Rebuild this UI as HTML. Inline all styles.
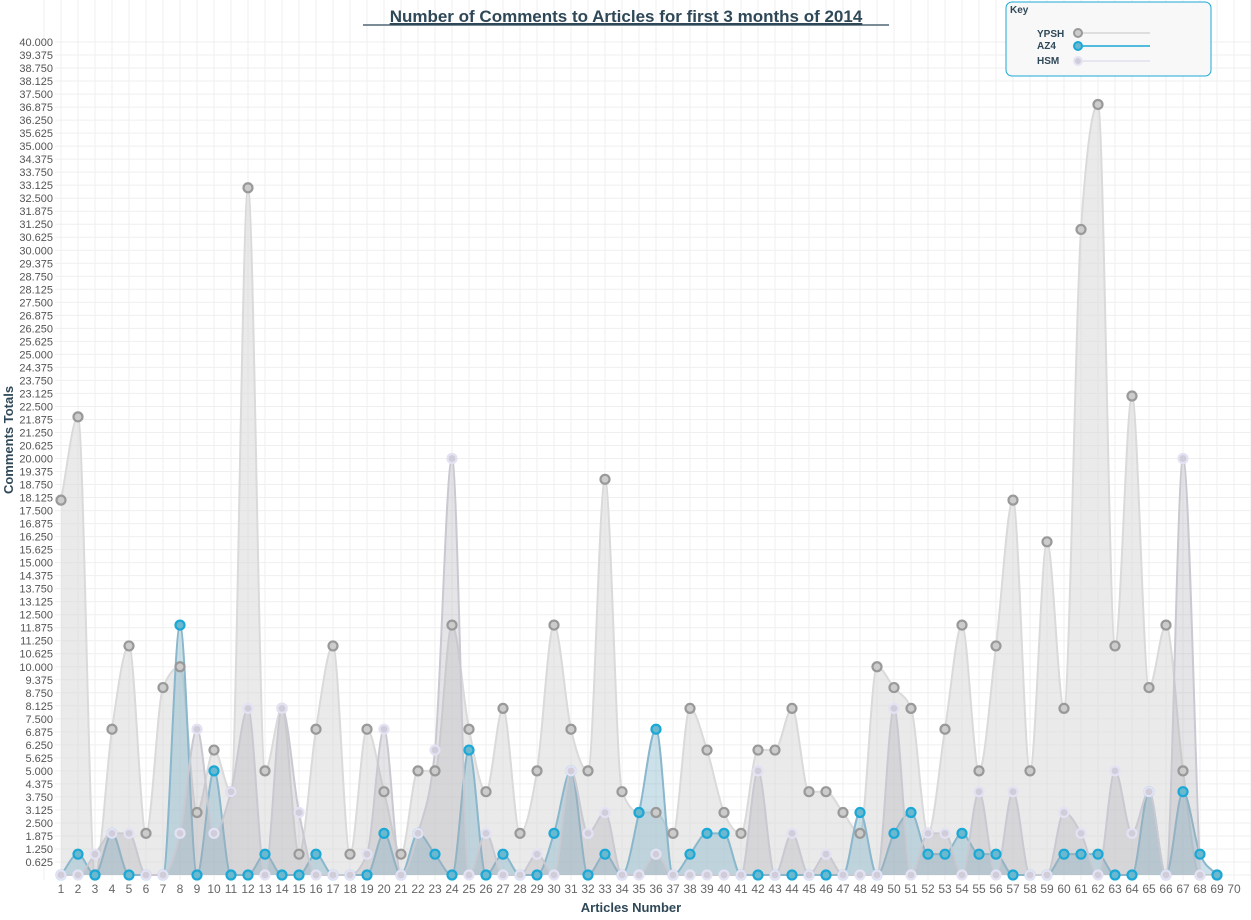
<!DOCTYPE html>
<html><head><meta charset="utf-8"><style>
html,body{margin:0;padding:0;background:#fff}
svg{display:block;font-family:"Liberation Sans",sans-serif}
</style></head><body>
<svg id="c" width="1251" height="920" viewBox="0 0 1251 920">
<g id="grid"></g>
<g id="series"></g>
<g id="ylab" font-size="11" fill="#555" text-anchor="end">
<text>0.625</text><text>1.250</text><text>1.875</text><text>2.500</text><text>3.125</text><text>3.750</text><text>4.375</text><text>5.000</text><text>5.625</text><text>6.250</text><text>6.875</text><text>7.500</text><text>8.125</text><text>8.750</text><text>9.375</text><text>10.000</text><text>10.625</text><text>11.250</text><text>11.875</text><text>12.500</text><text>13.125</text><text>13.750</text><text>14.375</text><text>15.000</text><text>15.625</text><text>16.250</text><text>16.875</text><text>17.500</text><text>18.125</text><text>18.750</text><text>19.375</text><text>20.000</text><text>20.625</text><text>21.250</text><text>21.875</text><text>22.500</text><text>23.125</text><text>23.750</text><text>24.375</text><text>25.000</text><text>25.625</text><text>26.250</text><text>26.875</text><text>27.500</text><text>28.125</text><text>28.750</text><text>29.375</text><text>30.000</text><text>30.625</text><text>31.250</text><text>31.875</text><text>32.500</text><text>33.125</text><text>33.750</text><text>34.375</text><text>35.000</text><text>35.625</text><text>36.250</text><text>36.875</text><text>37.500</text><text>38.125</text><text>38.750</text><text>39.375</text><text>40.000</text>
</g>
<g id="xlab" font-size="12" fill="#666" text-anchor="middle">
<text>1</text><text>2</text><text>3</text><text>4</text><text>5</text><text>6</text><text>7</text><text>8</text><text>9</text><text>10</text><text>11</text><text>12</text><text>13</text><text>14</text><text>15</text><text>16</text><text>17</text><text>18</text><text>19</text><text>20</text><text>21</text><text>22</text><text>23</text><text>24</text><text>25</text><text>26</text><text>27</text><text>28</text><text>29</text><text>30</text><text>31</text><text>32</text><text>33</text><text>34</text><text>35</text><text>36</text><text>37</text><text>38</text><text>39</text><text>40</text><text>41</text><text>42</text><text>43</text><text>44</text><text>45</text><text>46</text><text>47</text><text>48</text><text>49</text><text>50</text><text>51</text><text>52</text><text>53</text><text>54</text><text>55</text><text>56</text><text>57</text><text>58</text><text>59</text><text>60</text><text>61</text><text>62</text><text>63</text><text>64</text><text>65</text><text>66</text><text>67</text><text>68</text><text>69</text><text>70</text>
</g>
<text x="626" y="22" font-size="17" font-weight="bold" fill="#2f4858" text-anchor="middle" text-decoration="underline">Number of Comments to Articles for first 3 months of 2014</text>
<line x1="363" y1="25" x2="889" y2="25" stroke="#2f4858" stroke-width="1.3"/>
<text x="631" y="912" font-size="13" font-weight="bold" fill="#2f4858" text-anchor="middle">Articles Number</text>
<text transform="translate(13,440) rotate(-90)" font-size="13" font-weight="bold" fill="#2f4858" text-anchor="middle">Comments Totals</text>
<rect x="1006" y="2" width="205" height="74" rx="6" fill="#f8f8f8" stroke="#1ba8d6" stroke-width="1"/>
<text x="1010" y="13" font-size="10" font-weight="bold" fill="#2f4858">Key</text>
<g font-size="10" font-weight="bold" fill="#2f4858">
<text x="1037" y="37">YPSH</text><text x="1037" y="49">AZ4</text><text x="1037" y="64">HSM</text></g>
<line x1="1078" y1="33" x2="1150" y2="33" stroke="#d5d5d5" stroke-width="1.5"/>
<line x1="1078" y1="46" x2="1150" y2="46" stroke="#1ba8d6" stroke-width="1.5"/>
<line x1="1078" y1="61" x2="1150" y2="61" stroke="#e0e0ee" stroke-width="1.5"/>
<circle cx="1078" cy="33" r="4" fill="#ccc" stroke="#999" stroke-width="2"/>
<circle cx="1078" cy="46" r="4" fill="#6bb8cf" stroke="#1ba8d6" stroke-width="2"/>
<circle cx="1078" cy="61" r="4" fill="#d0cdd9" stroke="#e4e4f4" stroke-width="2"/>
</svg>
<script>
var NS="http://www.w3.org/2000/svg";
function X(i){return 61+(i-1)*17;}
function Y(v){return 875-v*20.825;}
var g=document.getElementById('grid'),s="";
for(var k=0;k<=64;k++){var y=Y(k*0.625);s+='<line x1="55" x2="1251" y1="'+y+'" y2="'+y+'" stroke="#efefef" stroke-width="1"/>';}
for(var i=0;i<=74;i++){var x=61+(i-1)*17;s+='<line x1="'+x+'" x2="'+x+'" y1="0" y2="880" stroke="#efefef" stroke-width="1"/>';}
g.innerHTML=s;
var yl=document.getElementById('ylab').children;
for(var k=0;k<yl.length;k++){yl[k].setAttribute('x',53);yl[k].setAttribute('y',Y((k+1)*0.625)+4);}
var xl=document.getElementById('xlab').children;
for(var k=0;k<xl.length;k++){xl[k].setAttribute('x',X(k+1));xl[k].setAttribute('y',893);}
var YPSH=[18,22,0,7,11,2,9,10,3,6,4,33,5,8,1,7,11,1,7,4,1,5,5,12,7,4,8,2,5,12,7,5,19,4,3,3,2,8,6,3,2,6,6,8,4,4,3,2,10,9,8,2,7,12,5,11,18,5,16,8,31,37,11,23,9,12,5,0,0];
var AZ4=[0,1,0,2,0,0,0,12,0,5,0,0,1,0,0,1,0,0,0,2,0,2,1,0,6,0,1,0,0,2,5,0,1,0,3,7,0,1,2,2,0,0,0,0,0,0,0,3,0,2,3,1,1,2,1,1,0,0,0,1,1,1,0,0,4,0,4,1,0];
var HSM=[0,0,1,2,2,0,0,2,7,2,4,8,0,8,3,0,0,0,1,7,0,2,6,20,0,2,0,0,1,0,5,2,3,0,0,1,0,0,0,0,0,5,0,2,0,1,0,0,0,8,0,2,2,0,4,0,4,0,0,3,2,0,5,2,4,0,20,0];
function mono(pts){
 var n=pts.length;if(n<2)return "";
 var d=[],m=[];
 for(var i=0;i<n-1;i++)d.push((pts[i+1][1]-pts[i][1])/(pts[i+1][0]-pts[i][0]));
 m[0]=d[0];m[n-1]=d[n-2];
 for(var i=1;i<n-1;i++){ if(d[i-1]*d[i]<=0)m[i]=0; else {var h0=pts[i][0]-pts[i-1][0],h1=pts[i+1][0]-pts[i][0];
  var p=(d[i-1]*h1+d[i]*h0)/(h0+h1);m[i]=(Math.sign(d[i-1])+Math.sign(d[i]))*Math.min(Math.abs(d[i-1]),Math.abs(d[i]),0.5*Math.abs(p));}}
 var p="M"+pts[0][0]+","+pts[0][1];
 for(var i=0;i<n-1;i++){var h=(pts[i+1][0]-pts[i][0])/3;
  p+="C"+(pts[i][0]+h)+","+(pts[i][1]+h*m[i])+" "+(pts[i+1][0]-h)+","+(pts[i+1][1]-h*m[i+1])+" "+pts[i+1][0]+","+pts[i+1][1];}
 return p;}
function series(data,fill,fop,line,ms,mf){
 var pts=data.map(function(v,i){return [X(i+1),Y(v)];});
 var p=mono(pts);
 var h='<path d="'+p+'L'+pts[pts.length-1][0]+',875L'+pts[0][0]+',875Z" fill="'+fill+'" fill-opacity="'+fop+'"/>';
 h+='<path d="'+p+'" fill="none" stroke="'+line+'" stroke-width="2"/>';
 return {a:h,m:pts.map(function(q){return '<circle cx="'+q[0]+'" cy="'+q[1]+'" r="4.5" fill="'+mf+'" stroke="'+ms+'" stroke-width="2.2"/>';}).join('')};}
var a=series(YPSH,"#d8d8d8",0.55,"#dadada","#999","#ccc");
var b=series(AZ4,"#6fa8c4",0.35,"#8ab7cb","#1ba8d6","#6bb8cf");
var c=series(HSM,"#a8a8b4",0.3,"#c9c9d2","#e2e2f4","#d0cdd9");
document.getElementById('series').innerHTML=a.a+b.a+c.a+a.m+b.m+c.m;
</script>
</body></html>
